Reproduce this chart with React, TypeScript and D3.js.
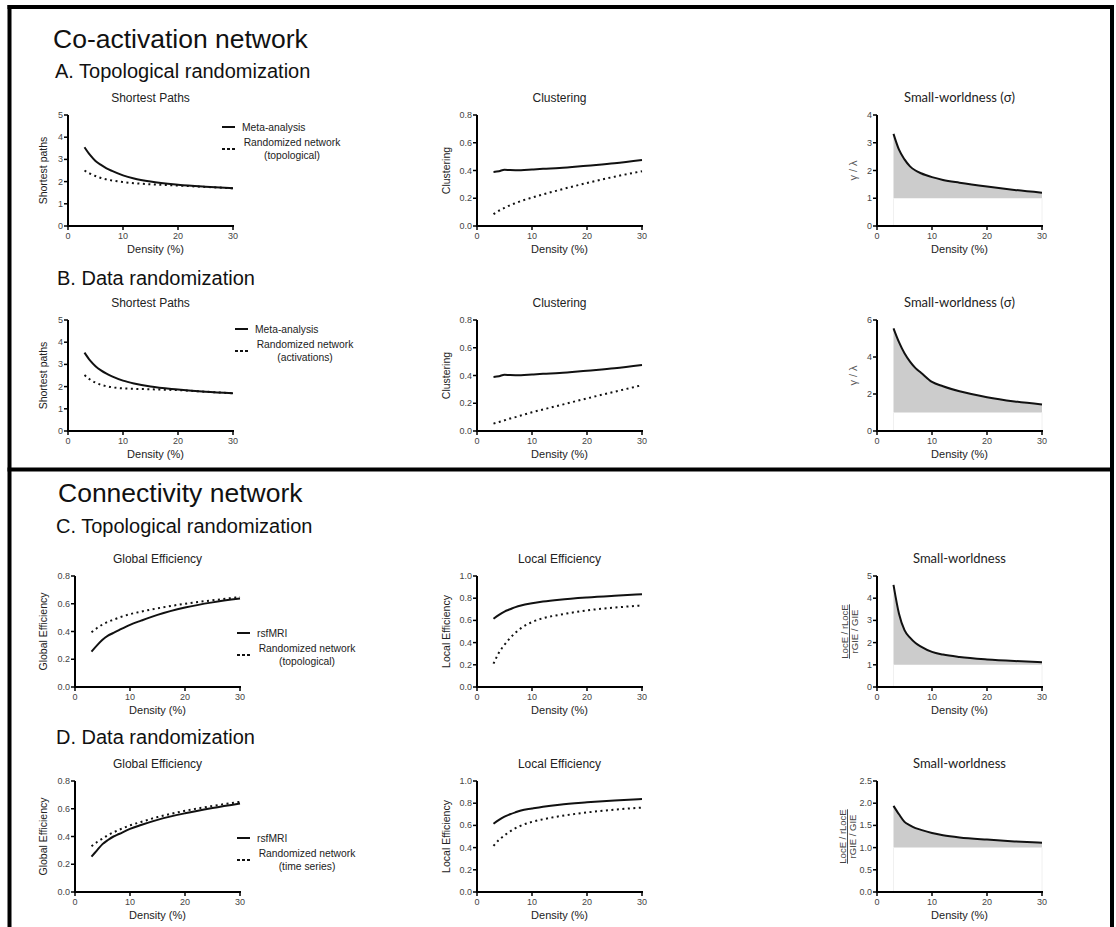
import * as d3 from "d3";

// density (%) values where every curve was read
const densities = [3, 4, 5, 6, 7, 8, 10, 12, 15, 20, 25, 30];

// A. co-activation, topological randomization
const metaPathsA = [3.55, 3.2, 2.93, 2.75, 2.6, 2.48, 2.28, 2.14, 2.0, 1.86, 1.77, 1.7];
const randPathsA = [2.5, 2.36, 2.25, 2.16, 2.1, 2.05, 1.98, 1.93, 1.88, 1.82, 1.76, 1.7];
const metaClustA = [0.39, 0.395, 0.405, 0.403, 0.402, 0.402, 0.407, 0.412, 0.418, 0.435, 0.452, 0.475];
const randClustA = [0.085, 0.11, 0.13, 0.15, 0.165, 0.18, 0.205, 0.228, 0.26, 0.31, 0.355, 0.395];
const sigmaA = [3.32, 2.75, 2.4, 2.15, 2.0, 1.9, 1.76, 1.66, 1.56, 1.42, 1.3, 1.2];

// B. co-activation, data randomization
const metaPathsB = [3.53, 3.18, 2.92, 2.73, 2.58, 2.46, 2.27, 2.14, 2.0, 1.87, 1.77, 1.7];
const randPathsB = [2.52, 2.32, 2.18, 2.08, 2.02, 1.97, 1.92, 1.9, 1.88, 1.84, 1.77, 1.7];
const metaClustB = [0.39, 0.395, 0.405, 0.403, 0.402, 0.402, 0.407, 0.412, 0.418, 0.435, 0.452, 0.475];
const randClustB = [0.053, 0.065, 0.077, 0.09, 0.1, 0.112, 0.135, 0.155, 0.185, 0.235, 0.283, 0.33];
const sigmaB = [5.55, 4.8, 4.2, 3.75, 3.4, 3.15, 2.65, 2.42, 2.15, 1.83, 1.6, 1.43];

// C. connectivity, topological randomization
const rsfGlobC = [0.255, 0.3, 0.34, 0.37, 0.39, 0.41, 0.448, 0.478, 0.52, 0.573, 0.61, 0.637];
const randGlobC = [0.395, 0.425, 0.45, 0.47, 0.485, 0.5, 0.525, 0.543, 0.567, 0.6, 0.625, 0.648];
const rsfLocC = [0.615, 0.65, 0.68, 0.7, 0.72, 0.735, 0.755, 0.77, 0.787, 0.807, 0.822, 0.835];
const randLocC = [0.21, 0.31, 0.38, 0.44, 0.49, 0.53, 0.585, 0.62, 0.65, 0.69, 0.715, 0.735];
const swC = [4.6, 3.3, 2.56, 2.22, 1.98, 1.82, 1.58, 1.46, 1.35, 1.24, 1.17, 1.12];

// D. connectivity, data randomization
const rsfGlobD = [0.255, 0.3, 0.345, 0.375, 0.4, 0.418, 0.455, 0.483, 0.52, 0.567, 0.605, 0.638];
const randGlobD = [0.33, 0.36, 0.385, 0.41, 0.43, 0.448, 0.48, 0.505, 0.54, 0.585, 0.62, 0.65];
const rsfLocD = [0.615, 0.65, 0.68, 0.7, 0.718, 0.735, 0.752, 0.768, 0.787, 0.808, 0.825, 0.838];
const randLocD = [0.415, 0.47, 0.51, 0.545, 0.575, 0.598, 0.632, 0.655, 0.683, 0.717, 0.742, 0.76];
const swD = [1.94, 1.75, 1.58, 1.5, 1.44, 1.4, 1.33, 1.28, 1.23, 1.18, 1.14, 1.11];

const xTicks = [0, 10, 20, 30];

const FONT = "'Liberation Sans', Arial, Helvetica, sans-serif";
const PW = 165;
const PH = 111;

type Series = { values: number[]; dashed?: boolean };

function Panel(props: {
  x0: number;
  top: number;
  title: string;
  yLabel: any;
  yLabelDx: number;
  yMax: number;
  yTicks: number[];
  fmt: (v: number) => string;
  series: Series[];
  area?: boolean;
  xLabelDx?: number;
}) {
  const { x0, top, title, yLabel, yLabelDx, yMax, yTicks, fmt, series, area } = props;
  const x = d3.scaleLinear().domain([0, 30]).range([0, PW]);
  const y = d3.scaleLinear().domain([0, yMax]).range([PH, 0]);
  const line = d3
    .line<number>()
    .x((_, i) => x(densities[i]))
    .y((d) => y(d))
    .curve(d3.curveMonotoneX);
  const fill = d3
    .area<number>()
    .x((_, i) => x(densities[i]))
    .y0(y(1))
    .y1((d) => y(d))
    .curve(d3.curveMonotoneX);
  const sw = title.startsWith("Small");

  return (
    <g transform={`translate(${x0},${top})`} fontFamily={FONT}>
      <text x={PW / 2} y={-13} textAnchor="middle" fontSize={sw ? 13 : 12}
        fontFamily={sw ? "Lato, " + FONT : FONT} fill="#222">
        {title}
      </text>
      {area && (
        <g>
          <path d={fill(series[0].values) || ""} fill="#cccccc" />
          <line x1={x(3)} x2={x(3)} y1={y(1)} y2={PH} stroke="#f0f0f0" />
          <line x1={x(30)} x2={x(30)} y1={y(1)} y2={PH} stroke="#f0f0f0" />
        </g>
      )}
      {series.map((s, i) => (
        <path key={i} d={line(s.values) || ""} fill="none" stroke="#111"
          strokeWidth={2}
          strokeDasharray={s.dashed ? "2,3.5" : undefined} />
      ))}
      {/* axes */}
      <line x1={0} x2={PW + 1} y1={PH} y2={PH} stroke="#000" strokeWidth={2} />
      <line x1={0} x2={0} y1={0} y2={PH + 1} stroke="#000" strokeWidth={2} />
      {xTicks.map((t) => (
        <g key={t}>
          <line x1={x(t)} x2={x(t)} y1={PH} y2={PH + 4} stroke="#000" strokeWidth={1.5} />
          <text x={x(t)} y={PH + 13} textAnchor="middle" fontSize={9} fill="#444">{t}</text>
        </g>
      ))}
      {yTicks.map((t) => (
        <g key={t}>
          <line x1={-4} x2={0} y1={y(t)} y2={y(t)} stroke="#000" strokeWidth={1.5} />
          <text x={-5} y={y(t) + 3} textAnchor="end" fontSize={9} fill="#444">{fmt(t)}</text>
        </g>
      ))}
      <text x={PW / 2 + (props.xLabelDx || 0)} y={PH + 27} textAnchor="middle" fontSize={11} fill="#222">
        Density (%)
      </text>
      <g transform={`translate(${yLabelDx},${PH / 2}) rotate(-90)`}>{yLabel}</g>
    </g>
  );
}

function Legend(props: { x: number; y: number; solid: string; rand: string; kind: string }) {
  const { x, y, solid, rand, kind } = props;
  return (
    <g fontFamily={FONT} fontSize={10.3} fill="#222">
      <line x1={x} x2={x + 13} y1={y} y2={y} stroke="#111" strokeWidth={2} />
      <text x={x + 20} y={y + 3.8}>{solid}</text>
      <line x1={x} x2={x + 13} y1={y + 22} y2={y + 22} stroke="#111" strokeWidth={2} strokeDasharray="3,2" />
      <text x={x + 70} y={y + 19} textAnchor="middle">{rand}</text>
      <text x={x + 70} y={y + 31.5} textAnchor="middle">{kind}</text>
    </g>
  );
}

const f0 = (v: number) => d3.format("d")(v);
const f1 = (v: number) => d3.format(".1f")(v);

const yl = (s: string) => (
  <text textAnchor="middle" fontSize={10.5} fill="#222" fontFamily={FONT}>{s}</text>
);
const gammaLabel = (
  <text textAnchor="middle" fontSize={11} fill="#555" fontFamily={FONT}>γ / λ</text>
);
const ratioLabel = (
  <g fontFamily={FONT} fontSize={9.5} fill="#444" textAnchor="middle">
    <text y={-1} textDecoration="underline">LocE / rLocE</text>
    <text y={9}>rGIE / GIE</text>
  </g>
);

export default function App() {
  const c1AB = 68;
  const c1CD = 75;
  const c2 = 477;
  const c3 = 877;
  const rows = { A: 115, B: 320, C: 576, D: 781 };

  return (
    <svg width={1116} height={927} style={{ position: "absolute", left: 0, top: 0, background: "#fff" }}>
      <rect width={1116} height={927} fill="#fff" />
      {/* frame */}
      <g stroke="#000" strokeWidth={4}>
        <line x1={9.5} x2={9.5} y1={5} y2={927} />
        <line x1={1112} x2={1112} y1={5} y2={927} />
        <line x1={7.5} x2={1114} y1={7} y2={7} />
        <line x1={7.5} x2={1114} y1={469.5} y2={469.5} />
      </g>

      <g fontFamily={FONT} fill="#111">
        <text x={53} y={48} fontSize={26.5}>Co-activation network</text>
        <text x={55} y={78} fontSize={20}>A. Topological randomization</text>
        <text x={57} y={285} fontSize={20}>B. Data randomization</text>
        <text x={58} y={502} fontSize={26.5}>Connectivity network</text>
        <text x={56} y={533} fontSize={20}>C. Topological randomization</text>
        <text x={56} y={744} fontSize={20}>D. Data randomization</text>
      </g>

      {/* row A */}
      <Panel x0={c1AB} top={rows.A} title="Shortest Paths" yLabel={yl("Shortest paths")} yLabelDx={-21}
        yMax={5} yTicks={[0, 1, 2, 3, 4, 5]} fmt={f0} xLabelDx={5}
        series={[{ values: metaPathsA }, { values: randPathsA, dashed: true }]} />
      <Legend x={222} y={127} solid="Meta-analysis" rand="Randomized network" kind="(topological)" />
      <Panel x0={c2} top={rows.A} title="Clustering" yLabel={yl("Clustering")} yLabelDx={-27}
        yMax={0.8} yTicks={[0, 0.2, 0.4, 0.6, 0.8]} fmt={f1}
        series={[{ values: metaClustA }, { values: randClustA, dashed: true }]} />
      <Panel x0={c3} top={rows.A} title="Small-worldness (σ)" yLabel={gammaLabel} yLabelDx={-20}
        yMax={4} yTicks={[0, 1, 2, 3, 4]} fmt={f0} area
        series={[{ values: sigmaA }]} />

      {/* row B */}
      <Panel x0={c1AB} top={rows.B} title="Shortest Paths" yLabel={yl("Shortest paths")} yLabelDx={-21}
        yMax={5} yTicks={[0, 1, 2, 3, 4, 5]} fmt={f0} xLabelDx={5}
        series={[{ values: metaPathsB }, { values: randPathsB, dashed: true }]} />
      <Legend x={235} y={329} solid="Meta-analysis" rand="Randomized network" kind="(activations)" />
      <Panel x0={c2} top={rows.B} title="Clustering" yLabel={yl("Clustering")} yLabelDx={-27}
        yMax={0.8} yTicks={[0, 0.2, 0.4, 0.6, 0.8]} fmt={f1}
        series={[{ values: metaClustB }, { values: randClustB, dashed: true }]} />
      <Panel x0={c3} top={rows.B} title="Small-worldness (σ)" yLabel={gammaLabel} yLabelDx={-20}
        yMax={6} yTicks={[0, 2, 4, 6]} fmt={f0} area
        series={[{ values: sigmaB }]} />

      {/* row C */}
      <Panel x0={c1CD} top={rows.C} title="Global Efficiency" yLabel={yl("Global Efficiency")} yLabelDx={-28}
        yMax={0.8} yTicks={[0, 0.2, 0.4, 0.6, 0.8]} fmt={f1}
        series={[{ values: rsfGlobC }, { values: randGlobC, dashed: true }]} />
      <Legend x={237} y={633} solid="rsfMRI" rand="Randomized network" kind="(topological)" />
      <Panel x0={c2} top={rows.C} title="Local Efficiency" yLabel={yl("Local Efficiency")} yLabelDx={-27}
        yMax={1} yTicks={[0, 0.2, 0.4, 0.6, 0.8, 1.0]} fmt={f1}
        series={[{ values: rsfLocC }, { values: randLocC, dashed: true }]} />
      <Panel x0={c3} top={rows.C} title="Small-worldness" yLabel={ratioLabel} yLabelDx={-28}
        yMax={5} yTicks={[0, 1, 2, 3, 4, 5]} fmt={f0} area
        series={[{ values: swC }]} />

      {/* row D */}
      <Panel x0={c1CD} top={rows.D} title="Global Efficiency" yLabel={yl("Global Efficiency")} yLabelDx={-28}
        yMax={0.8} yTicks={[0, 0.2, 0.4, 0.6, 0.8]} fmt={f1}
        series={[{ values: rsfGlobD }, { values: randGlobD, dashed: true }]} />
      <Legend x={237} y={838} solid="rsfMRI" rand="Randomized network" kind="(time series)" />
      <Panel x0={c2} top={rows.D} title="Local Efficiency" yLabel={yl("Local Efficiency")} yLabelDx={-27}
        yMax={1} yTicks={[0, 0.2, 0.4, 0.6, 0.8, 1.0]} fmt={f1}
        series={[{ values: rsfLocD }, { values: randLocD, dashed: true }]} />
      <Panel x0={c3} top={rows.D} title="Small-worldness" yLabel={ratioLabel} yLabelDx={-30}
        yMax={2.5} yTicks={[0, 0.5, 1.0, 1.5, 2.0, 2.5]} fmt={f1} area
        series={[{ values: swD }]} />
    </svg>
  );
}
